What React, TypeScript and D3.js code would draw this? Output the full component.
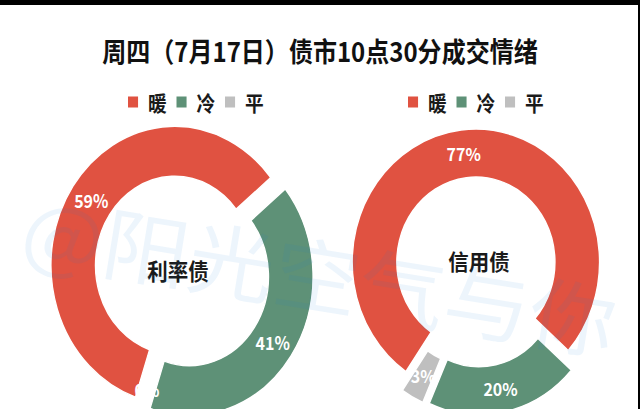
import React from 'react';
import * as d3 from 'd3';

// ---------- data ----------
const TITLE = '周四（7月17日）债市10点30分成交情绪';
const CATEGORIES = ['暖', '冷', '平'];
const COLORS = ['#E05241', '#5E9177', '#BFBFBF'];
const CHART_NAMES = ['利率债', '信用债'];
const RATE_VALUES = [59, 41, 0];
const CREDIT_VALUES = [77, 20, 3];
const WATERMARK = '@阳光空气与你';

// ---------- layout ----------
const W = 640;
const H = 409;
const SX = 0.89; // horizontal squeeze of the original picture (title / legend)
const FONT = '"Noto Sans CJK SC", "Noto Sans", sans-serif';

type ChartLayout = {
  cx: number; // screen x of centre
  cy: number;
  sx: number;
  rOut: number;
  rIn: number;
  explode: number;
  startDeg: number;
  nameDx: number;
  nameDy: number;
  nameSize: number;
  legendX: number; // screen x of first legend square
};

const LAYOUTS: ChartLayout[] = [
  { cx: 182, cy: 271, sx: 0.89, rOut: 139, rIn: 89, explode: 10, startDeg: 198.5, nameDx: -4, nameDy: -1, nameSize: 23, legendX: 128 },
  { cx: 477, cy: 272, sx: 0.93, rOut: 133, rIn: 85, explode: 10, startDeg: 214.5, nameDx: 2, nameDy: -12, nameSize: 22, legendX: 408 },
];

function Donut({ values, name, layout }: { values: number[]; name: string; layout: ChartLayout }) {
  const { sx, rOut, rIn, explode } = layout;
  const s = (layout.startDeg * Math.PI) / 180;
  const pie = d3
    .pie<number>()
    .sort(null)
    .startAngle(s)
    .endAngle(s + 2 * Math.PI)(values);
  const arc = d3.arc<d3.PieArcDatum<number>>().innerRadius(rIn).outerRadius(rOut);
  const labelR = (rOut + rIn) / 2 + explode;
  return (
    <g transform={`translate(${layout.cx},${layout.cy}) scale(${sx},1)`}>
      {pie.map((p, i) => {
        if (p.value <= 0) return null;
        const mid = (p.startAngle + p.endAngle) / 2;
        const dx = explode * Math.sin(mid);
        const dy = -explode * Math.cos(mid);
        return (
          <path
            key={i}
            d={arc(p) || ''}
            transform={`translate(${dx},${dy})`}
            fill={COLORS[i]}
            stroke="#fff"
            strokeWidth={1.5}
          />
        );
      })}
      {pie.map((p, i) => {
        const mid = (p.startAngle + p.endAngle) / 2;
        const x = labelR * Math.sin(mid);
        const y = -labelR * Math.cos(mid);
        return (
          <text
            key={'l' + i}
            x={x}
            y={y}
            textAnchor="middle"
            dominantBaseline="central"
            fill="#fff"
            fontFamily={FONT}
            fontWeight={700}
            fontSize={18 * (0.89 / sx)}
          >
            {`${p.value}%`}
          </text>
        );
      })}
      <text
        x={layout.nameDx / sx}
        y={layout.nameDy}
        textAnchor="middle"
        dominantBaseline="central"
        fill="#1a1a1a"
        fontFamily={FONT}
        fontWeight={700}
        fontSize={layout.nameSize}
      >
        {name}
      </text>
    </g>
  );
}

function Legend({ layout }: { layout: ChartLayout }) {
  const step = 48.5 / SX;
  const x0 = layout.legendX / SX;
  return (
    <g>
      {CATEGORIES.map((c, i) => (
        <g key={c} transform={`translate(${x0 + i * step},102)`}>
          <rect x={0} y={-5.5} width={11.3} height={11} fill={COLORS[i]} />
          <text
            x={22.5}
            y={0}
            dominantBaseline="central"
            fill="#1a1a1a"
            fontFamily={FONT}
            fontWeight={700}
            fontSize={21}
          >
            {c}
          </text>
        </g>
      ))}
    </g>
  );
}

export default function App() {
  const datasets = [RATE_VALUES, CREDIT_VALUES];
  return (
    <svg
      width={W}
      height={H}
      style={{ position: 'absolute', left: 0, top: 0, background: '#fff' }}
    >
      <rect width={W} height={H} fill="#fff" />
      <g transform={`scale(${SX},1)`}>
        <text
          x={320 / SX}
          y={50}
          textAnchor="middle"
          dominantBaseline="central"
          fill="#111"
          fontFamily={FONT}
          fontWeight={700}
          fontSize={27}
        >
          {TITLE}
        </text>
        {LAYOUTS.map((l, i) => (
          <Legend key={'lg' + i} layout={l} />
        ))}
      </g>
      {LAYOUTS.map((l, i) => (
        <Donut key={'d' + i} values={datasets[i]} name={CHART_NAMES[i]} layout={l} />
      ))}
      <g transform="rotate(9.2,320,272)">
        <text
          x={320}
          y={272}
          textAnchor="middle"
          dominantBaseline="central"
          fill="#1a7fd9"
          fillOpacity={0.08}
          fontFamily={FONT}
          fontSize={80}
          textLength={600}
          lengthAdjust="spacingAndGlyphs"
        >
          {WATERMARK}
        </text>
      </g>
      <rect x={0} y={0} width={W} height={5} fill="#000" />
      <rect x={638} y={0} width={2} height={H} fill="#000" />
    </svg>
  );
}
